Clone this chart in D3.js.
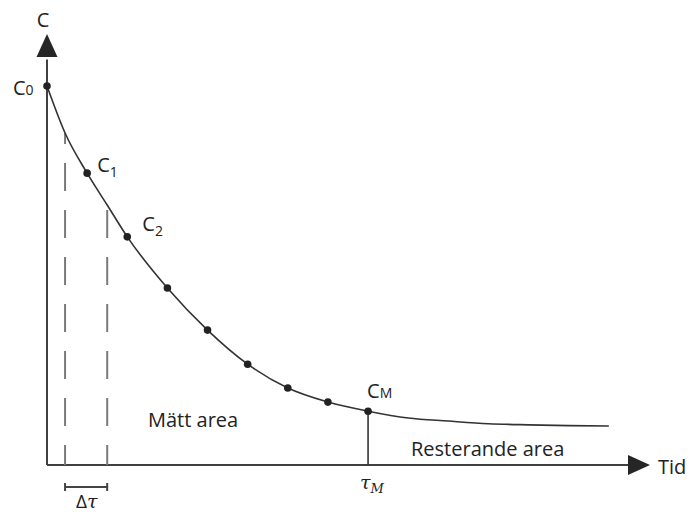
<!DOCTYPE html>
<html>
<head>
<meta charset="utf-8">
<script src="https://cdn.jsdelivr.net/npm/d3@7"></script>
<style>
  body { margin: 0; background: #fff; }
  text { font-family: "Open Sans", sans-serif; fill: #222; }
</style>
</head>
<body>
<svg id="chart" width="692" height="514"></svg>
<script>
// time (sample index) and concentration
const curveT = [0, 0.45, 1, 1.5, 2, 3, 4, 5, 6, 7, 8, 9, 10, 11, 12, 13, 14];
const curveC = [100, 87.6, 77.0, 68.6, 60.2, 46.7, 35.6, 26.6, 20.3, 16.6, 14.2, 12.4, 11.6, 10.9, 10.6, 10.4, 10.3];

// measured points C0 .. CM
const measT = [0, 1, 2, 3, 4, 5, 6, 7, 8];
const measC = [100, 77.0, 60.2, 46.7, 35.6, 26.6, 20.3, 16.6, 14.2];

// labelled points
const labelIdx = [0, 1, 2, 8];
const labelSub = ["0", "1", "2", "M"];

// Δτ interval
const intervalT = [0.45, 1.5];
const tauM = 8;

const svg = d3.select("#chart");

const x = d3.scaleLinear().domain([0, 15]).range([47, 649]);
const y = d3.scaleLinear().domain([0, 100]).range([465, 86]);

const axisColor = "#404040";

// axes
svg.append("line")
  .attr("x1", x(0)).attr("x2", x(14.6))
  .attr("y1", y(0)).attr("y2", y(0))
  .attr("stroke", axisColor).attr("stroke-width", 2);

svg.append("line")
  .attr("x1", x(0)).attr("x2", x(0))
  .attr("y1", y(0)).attr("y2", y(107))
  .attr("stroke", axisColor).attr("stroke-width", 2);

// arrow heads
svg.append("path")
  .attr("d", `M${x(0) - 10.5},57 L${x(0) + 10.5},57 L${x(0)},34 Z`)
  .attr("fill", "#262626");
svg.append("path")
  .attr("d", `M628,${y(0) - 10} L628,${y(0) + 10} L650,${y(0)} Z`)
  .attr("fill", "#262626");

svg.append("text").attr("x", 43).attr("y", 27)
  .attr("text-anchor", "middle").attr("font-size", 20).text("C");
svg.append("text").attr("x", 658).attr("y", 474)
  .attr("font-size", 20).text("Tid");

// dashed lines for Δτ
intervalT.forEach(t => {
  const c = curveC[curveT.indexOf(t)];
  svg.append("line")
    .attr("x1", x(t)).attr("x2", x(t))
    .attr("y1", y(0)).attr("y2", y(c))
    .attr("stroke", "#7a7a7a").attr("stroke-width", 2)
    .attr("stroke-dasharray", "28,19")
    .attr("stroke-dashoffset", 8);
});

// curve
const line = d3.line()
  .x((d, i) => x(curveT[i]))
  .y(d => y(d))
  .curve(d3.curveMonotoneX);

svg.append("path")
  .datum(curveC)
  .attr("d", line)
  .attr("fill", "none")
  .attr("stroke", "#333")
  .attr("stroke-width", 1.6);

// τM vertical
svg.append("line")
  .attr("x1", x(tauM)).attr("x2", x(tauM))
  .attr("y1", y(0)).attr("y2", y(measC[measT.indexOf(tauM)]))
  .attr("stroke", "#333").attr("stroke-width", 1.6);

// points
svg.selectAll(".pt")
  .data(measC)
  .join("circle")
  .attr("class", "pt")
  .attr("cx", (d, i) => x(measT[i]))
  .attr("cy", d => y(d))
  .attr("r", 3.8)
  .attr("fill", "#222");

// point labels
const labelPos = [
  { dx: -34, dy: 9, sub: 0 },
  { dx: 10, dy: -1, sub: 5 },
  { dx: 15, dy: -6, sub: 5 },
  { dx: -1, dy: -13, sub: 0 }
];
labelIdx.forEach((k, j) => {
  const p = labelPos[j];
  const t = svg.append("text")
    .attr("x", x(measT[k]) + p.dx)
    .attr("y", y(measC[k]) + p.dy)
    .attr("font-size", 20);
  t.append("tspan").text("C");
  t.append("tspan").attr("font-size", 14).attr("dy", p.sub).text(labelSub[j]);
});

// Δτ bracket
const by = 487;
svg.append("path")
  .attr("d", `M${x(intervalT[0])},${by} L${x(intervalT[1])},${by}` +
    `M${x(intervalT[0])},${by - 4} L${x(intervalT[0])},${by + 4}` +
    `M${x(intervalT[1])},${by - 4} L${x(intervalT[1])},${by + 4}`)
  .attr("stroke", "#444").attr("stroke-width", 2).attr("fill", "none");

const dt = svg.append("text").attr("x", 76).attr("y", 508).attr("font-size", 19);
dt.append("tspan").text("Δ");
dt.append("tspan").style("font-family", "DejaVu Serif").attr("font-style", "italic").text("τ");

const tm = svg.append("text").attr("x", x(tauM) - 8).attr("y", 489)
  .attr("font-style", "italic").attr("font-size", 19);
tm.append("tspan").style("font-family", "DejaVu Serif").text("τ");
tm.append("tspan").style("font-family", "DejaVu Serif").attr("font-size", 13).attr("dy", 4).text("M");

// area labels
svg.append("text").attr("x", 148).attr("y", 427).attr("font-size", 20).text("Mätt area");
svg.append("text").attr("x", 411).attr("y", 456).attr("font-size", 20).text("Resterande area");
</script>
</body>
</html>
